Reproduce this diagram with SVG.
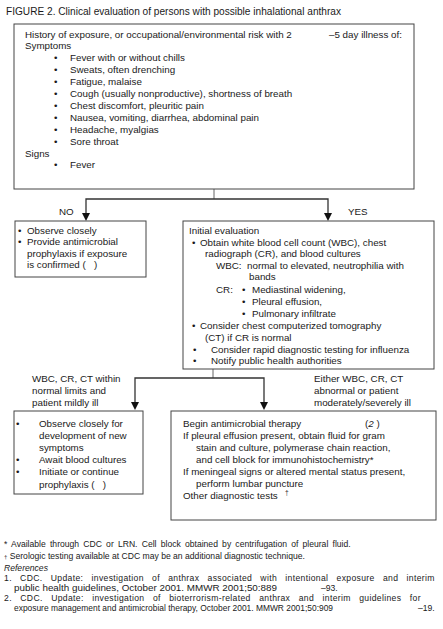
<svg xmlns="http://www.w3.org/2000/svg" width="443" height="629" viewBox="0 0 443 629">
<defs>
<style>
text{font-family:"Liberation Sans",Arial,sans-serif;font-size:9.8px;fill:#1a1a1a}
.title{font-size:10px}
.fn{font-size:8.6px}
.it{font-style:italic}
.box{fill:#fff;stroke:#444;stroke-width:1}
.ln{fill:none;stroke:#333;stroke-width:1.3}
.thin{fill:none;stroke:#666;stroke-width:1}
</style>
</defs>
<rect width="443" height="629" fill="#fff"/>
<text class="title" x="6" y="15" textLength="335" lengthAdjust="spacingAndGlyphs">FIGURE 2. Clinical evaluation of persons with possible inhalational anthrax</text>

<g id="connectors">
<path class="thin" d="M214,189 V199"/>
<path class="ln" d="M86,216 V199 H328 V216"/>
<path d="M82,213 L90,213 L86,221 Z" fill="#111"/>
<path d="M324,213 L332,213 L328,221 Z" fill="#111"/>
<path class="thin" d="M213,369 V378"/>
<path class="ln" d="M135,404 V378 H264 V404"/>
<path d="M131,402 L139,402 L135,410 Z" fill="#111"/>
<path d="M260,402 L268,402 L264,410 Z" fill="#111"/>
<text x="59" y="215">NO</text>
<text x="348" y="215">YES</text>
<text x="32" y="381.5">WBC, CR, CT within</text>
<text x="32" y="394">normal limits and</text>
<text x="32" y="405.5">patient mildly ill</text>
<text x="314" y="381.5">Either WBC, CR, CT</text>
<text x="314" y="394">abnormal or patient</text>
<text x="314" y="405.5">moderately/severely ill</text>
</g>

<g id="history">
<rect class="box" x="14" y="24" width="400" height="165"/>
<text x="25" y="37.5">History of exposure, or occupational/environmental risk with 2</text>
<text x="329" y="37.5">–5 day illness of:</text>
<text x="25" y="49.4">Symptoms</text>
<text x="54" y="61.3">•</text><text x="70" y="61.3">Fever with or without chills</text>
<text x="54" y="73.2">•</text><text x="70" y="73.2">Sweats, often drenching</text>
<text x="54" y="85.1">•</text><text x="70" y="85.1">Fatigue, malaise</text>
<text x="54" y="97">•</text><text x="70" y="97">Cough (usually nonproductive), shortness of breath</text>
<text x="54" y="108.9">•</text><text x="70" y="108.9">Chest discomfort, pleuritic pain</text>
<text x="54" y="120.8">•</text><text x="70" y="120.8">Nausea, vomiting, diarrhea, abdominal pain</text>
<text x="54" y="132.7">•</text><text x="70" y="132.7">Headache, myalgias</text>
<text x="54" y="144.6">•</text><text x="70" y="144.6">Sore throat</text>
<text x="25" y="156.5">Signs</text>
<text x="54" y="168.4">•</text><text x="70" y="168.4">Fever</text>
</g>

<g id="no-box">
<rect class="box" x="15" y="221" width="131" height="56"/>
<text x="18" y="234">•</text><text x="27" y="234">Observe closely</text>
<text x="18" y="245">•</text><text x="27" y="245">Provide antimicrobial</text>
<text x="27" y="256.5">prophylaxis if exposure</text>
<text x="27" y="267.5">is confirmed (&#160;&#160; )</text>
</g>

<g id="yes-box">
<rect class="box" x="183" y="221" width="251" height="148"/>
<text x="189" y="234">Initial evaluation</text>
<text x="192" y="245.5">•</text><text x="200" y="245.5">Obtain white blood cell count (WBC), chest</text>
<text x="205" y="257">radiograph (CR), and blood cultures</text>
<text x="216" y="268.5">WBC:&#160; normal to elevated, neutrophilia with</text>
<text x="249" y="280">bands</text>
<text x="216" y="293">CR:</text><text x="242" y="293">•</text><text x="252" y="293">Mediastinal widening,</text>
<text x="242" y="305">•</text><text x="252" y="305">Pleural effusion,</text>
<text x="242" y="316.5">•</text><text x="252" y="316.5">Pulmonary infiltrate</text>
<text x="192" y="328.5">•</text><text x="200" y="328.5">Consider chest computerized tomography</text>
<text x="205" y="340.5">(CT) if CR is normal</text>
<text x="193" y="352.5">•</text><text x="211" y="352.5">Consider rapid diagnostic testing for influenza</text>
<text x="193" y="364">•</text><text x="211" y="364">Notify public health authorities</text>
</g>

<g id="mild-box">
<rect class="box" x="14" y="411" width="129" height="83"/>
<text x="16" y="426.5">•</text><text x="39" y="426.5">Observe closely for</text>
<text x="39" y="438.5">development of new</text>
<text x="39" y="450.5">symptoms</text>
<text x="16" y="462.5">•</text><text x="39" y="462.5">Await blood cultures</text>
<text x="16" y="475">•</text><text x="39" y="475">Initiate or continue</text>
<text x="39" y="487.5">prophylaxis (&#160;&#160; )</text>
</g>

<g id="severe-box">
<rect class="box" x="171" y="411" width="265" height="109"/>
<text x="183" y="426.5">Begin antimicrobial therapy</text>
<text x="365" y="426.5">(<tspan class="it">2</tspan> )</text>
<text x="183" y="438.5">If pleural effusion present, obtain fluid for gram</text>
<text x="196" y="450.5">stain and culture, polymerase chain reaction,</text>
<text x="196" y="462.5">and cell block for immunohistochemistry*</text>
<text x="183" y="475">If meningeal signs or altered mental status present,</text>
<text x="196" y="487">perform lumbar puncture</text>
<text x="183" y="499">Other diagnostic tests</text>
<text x="285" y="495" style="font-size:6.5px">†</text>
</g>

<g id="footnotes">
<text class="fn" x="4" y="547.3" style="word-spacing:1.8px">* Available through CDC or LRN. Cell block obtained by centrifugation of pleural fluid.</text>
<text class="fn" x="4" y="558.7"><tspan style="font-size:6px">†</tspan> Serologic testing available at CDC may be an additional diagnostic technique.</text>
<text class="fn it" x="4" y="570.5">References</text>
<text class="fn" x="4" y="580.7" style="letter-spacing:0.35px;word-spacing:5.5px">1. CDC. Update: investigation of anthrax associated with intentional exposure and interim</text>
<text class="fn" x="14" y="590.7" textLength="263" lengthAdjust="spacingAndGlyphs">public health guidelines, October 2001. MMWR 2001;50:889</text>
<text class="fn" x="321" y="590.7">–93.</text>
<text class="fn" x="4" y="601.3" style="letter-spacing:0.35px;word-spacing:5.7px">2. CDC. Update: investigation of bioterrorism-related anthrax and interim guidelines for</text>
<text class="fn" x="14" y="611.3" textLength="319" lengthAdjust="spacingAndGlyphs">exposure management and antimicrobial therapy, October 2001. MMWR 2001;50:909</text>
<text class="fn" x="418" y="611.3">–19.</text>
</g>
</svg>
